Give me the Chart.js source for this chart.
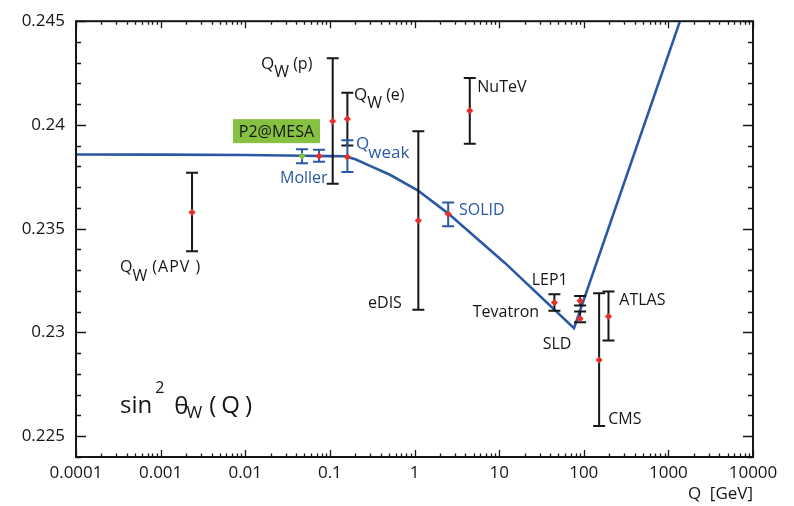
<!DOCTYPE html>
<html><head><meta charset="utf-8">
<script src="https://cdn.jsdelivr.net/npm/chart.js@4.4.1/dist/chart.umd.min.js"></script>
<style>html,body{margin:0;padding:0;background:#fff;} #wrap{width:794px;height:506px;}</style>
</head><body><div id="wrap"><canvas id="c" width="794" height="506"></canvas></div>
<script>
// ---- axis ticks ----
const xTickValues = [1e-4, 1e-3, 1e-2, 1e-1, 1, 10, 100, 1000, 10000];
const xTickLabels = ['0.0001', '0.001', '0.01', '0.1', '1', '10', '100', '1000', '10000'];
const yTickValues = [0.225, 0.23, 0.235, 0.24, 0.245];
const yTickLabels = ['0.225', '0.23', '0.235', '0.24', '0.245'];

// ---- running sin^2 theta_W curve ----
const curveQ = [0.0001, 0.001, 0.01, 0.05, 0.1, 0.15, 0.2, 0.298, 0.513, 1.10, 2.49, 11.7, 76.7, 1371];
const curveS = [0.23858, 0.23857, 0.23855, 0.23852, 0.2385, 0.238494, 0.23835, 0.238031, 0.237601, 0.236838, 0.23574, 0.233353, 0.230203, 0.245];

// ---- existing measurements (black error bars) ----
const blackNames = ['QW(APV)', 'QW(p)', 'QW(e)', 'eDIS', 'NuTeV', 'LEP1', 'Tevatron', 'SLD', 'CMS', 'ATLAS'];
const blackQ  = [0.00235, 0.108, 0.161, 1.11, 4.5, 45, 90.6, 90.6, 152, 196];
const blackS  = [0.235788, 0.240179, 0.240289, 0.235391, 0.240690, 0.231444, 0.231525, 0.230666, 0.228675, 0.230776];
const blackLo = [0.233912, 0.237172, 0.239010, 0.231096, 0.239095, 0.231048, 0.231301, 0.230489, 0.225492, 0.229616];
const blackHi = [0.237697, 0.243220, 0.241549, 0.239702, 0.242265, 0.231840, 0.231754, 0.231014, 0.231888, 0.231969];

// ---- future experiments (blue error bars) ----
const blueNames = ['P2@MESA', 'Moller', 'Qweak', 'SOLID'];
const blueQ  = [0.0469, 0.0745, 0.161, 2.5];
const blueS  = [0.238494, 0.238494, 0.238461, 0.235707];
const blueLo = [0.238160, 0.238222, 0.237730, 0.235119];
const blueHi = [0.238828, 0.238809, 0.239258, 0.236265];

const BLUE = '#2b58a5';
const RED = '#e3302b';
const GREEN = '#86c142';
const INK = '#161616';
const FONT = '"Open Sans", "DejaVu Sans", sans-serif';

// text annotations anchored in data coordinates (left edge, baseline)
const annotations = [
  {q: 0.01535, s: 0.242709, color: INK, parts: [{t: 'Q', size: 17}, {t: 'W', size: 16, dy: 8}, {t: ' (p)', size: 16, gap: 0}]},
  {q: 0.1927, s: 0.241181, color: INK, parts: [{t: 'Q', size: 17}, {t: 'W', size: 16, dy: 8}, {t: ' (e)', size: 16}]},
  {q: 0.000331, s: 0.232924, color: INK, parts: [{t: 'Q', size: 16}, {t: 'W', size: 16, dy: 9}, {t: ' (APV )', size: 16, ls: 1}]},
  {q: 5.52, s: 0.241611, color: INK, parts: [{t: 'NuTeV', size: 16}]},
  {q: 0.2825, s: 0.231158, color: INK, parts: [{t: 'eDIS', size: 16}]},
  {q: 24.3, s: 0.232303, color: INK, parts: [{t: 'LEP1', size: 16}]},
  {q: 4.88, s: 0.230728, color: INK, parts: [{t: 'Tevatron', size: 16}]},
  {q: 32.7, s: 0.229224, color: INK, parts: [{t: 'SLD', size: 16}]},
  {q: 263, s: 0.231301, color: INK, parts: [{t: 'ATLAS', size: 16}]},
  {q: 195, s: 0.225573, color: INK, parts: [{t: 'CMS', size: 16}]},
  {q: 3.36, s: 0.235644, color: BLUE, parts: [{t: 'SOLID', size: 16}]},
  {q: 0.02576, s: 0.237220, color: BLUE, parts: [{t: 'Moller', size: 16}]},
  {q: 0.2037, s: 0.238842, color: BLUE, parts: [{t: 'Q', size: 17, gap: -1}, {t: 'weak', size: 17, dy: 9}]},
  {q: 0.000331, s: 0.226098, color: INK, parts: [
    {t: 'sin', size: 24, gap: 3}, {t: '2', size: 16, dy: -20, gap: 10}, {t: '\u03b8', size: 24, dy: 1, gap: -2},
    {t: 'W', size: 17, dy: 5, gap: 7}, {t: '(', size: 24, gap: 5}, {t: 'Q', size: 24, gap: 5}, {t: ')', size: 24}]}
];
const boxLabel = {q: 0.02339, s: 0.239702, text: 'P2@MESA'};

function drawParts(ctx, x, y, parts, color) {
  let cx = x;
  ctx.textAlign = 'left';
  ctx.textBaseline = 'alphabetic';
  ctx.fillStyle = color;
  for (const p of parts) {
    ctx.font = p.size + 'px ' + FONT;
    if ('letterSpacing' in ctx) ctx.letterSpacing = (p.ls || 0) + 'px';
    ctx.fillText(p.t, cx, y + (p.dy || 0));
    cx += ctx.measureText(p.t).width + (p.gap || 0);
  }
  if ('letterSpacing' in ctx) ctx.letterSpacing = '0px';
}

function drawErrorBars(ctx, xs, ys, qs, lo, hi, color) {
  ctx.save();
  ctx.strokeStyle = color;
  ctx.lineWidth = 2;
  for (let i = 0; i < qs.length; i++) {
    const px = xs.getPixelForValue(qs[i]);
    const pt = ys.getPixelForValue(hi[i]);
    const pb = ys.getPixelForValue(lo[i]);
    ctx.beginPath();
    ctx.moveTo(px, pt); ctx.lineTo(px, pb);
    ctx.moveTo(px - 6, pt); ctx.lineTo(px + 6, pt);
    ctx.moveTo(px - 6, pb); ctx.lineTo(px + 6, pb);
    ctx.stroke();
  }
  ctx.restore();
}

const decorPlugin = {
  id: 'decor',
  afterDatasetDraw(chart, args) {
    if (args.index !== 3) return;
    const ctx = chart.ctx, xs = chart.scales.x, ys = chart.scales.y;
    drawErrorBars(ctx, xs, ys, blackQ, blackLo, blackHi, INK);
    drawErrorBars(ctx, xs, ys, blueQ, blueLo, blueHi, BLUE);
  },
  afterDraw(chart) {
    const ctx = chart.ctx, xs = chart.scales.x, ys = chart.scales.y, a = chart.chartArea;
    ctx.save();
    ctx.strokeStyle = INK;
    ctx.lineWidth = 2;
    ctx.strokeRect(a.left, a.top, a.right - a.left, a.bottom - a.top);
    ctx.lineWidth = 1.3;
    ctx.beginPath();
    for (let k = 224; k <= 245; k++) {
      const v = k / 1000;
      const py = Math.round(ys.getPixelForValue(v)) + 0.5;
      const len = (k % 5 === 0) ? 10 : 5;
      ctx.moveTo(a.left, py); ctx.lineTo(a.left + len, py);
      ctx.moveTo(a.right, py); ctx.lineTo(a.right - len, py);
    }
    for (let d = -4; d <= 4; d++) {
      for (let m = 1; m <= 9; m++) {
        if (d === 4 && m > 1) break;
        const v = m * Math.pow(10, d);
        const px = Math.round(xs.getPixelForValue(v)) + 0.5;
        const len = (m === 1) ? 7 : 3.5;
        ctx.moveTo(px, a.bottom); ctx.lineTo(px, a.bottom - len);
        ctx.moveTo(px, a.top); ctx.lineTo(px, a.top + len);
      }
    }
    ctx.stroke();
    const bx = xs.getPixelForValue(boxLabel.q), by = ys.getPixelForValue(boxLabel.s);
    ctx.fillStyle = GREEN;
    ctx.fillRect(bx - 43.5, by - 12, 87, 24);
    ctx.fillStyle = INK;
    ctx.font = '16px ' + FONT;
    ctx.textAlign = 'center';
    ctx.textBaseline = 'middle';
    ctx.fillText(boxLabel.text, bx, by + 1);
    for (const an of annotations) {
      drawParts(ctx, xs.getPixelForValue(an.q), ys.getPixelForValue(an.s), an.parts, an.color);
    }
    ctx.restore();
  }
};

const toXY = (qs, ss) => qs.map((q, i) => ({x: q, y: ss[i]}));
const tickFont = {family: FONT, size: 17};

new Chart(document.getElementById('c'), {
  type: 'scatter',
  data: {
    datasets: [
      {label: 'measurements', data: toXY(blackQ, blackS), pointStyle: 'rectRot', pointRadius: 3.6,
       backgroundColor: RED, borderColor: RED, borderWidth: 0, order: 0},
      {label: 'future', data: toXY(blueQ.slice(1), blueS.slice(1)), pointStyle: 'rectRot', pointRadius: 3.6,
       backgroundColor: RED, borderColor: RED, borderWidth: 0, order: 0},
      {label: 'P2', data: toXY(blueQ.slice(0, 1), blueS.slice(0, 1)), pointStyle: 'rectRot', pointRadius: 3.6,
       backgroundColor: GREEN, borderColor: GREEN, borderWidth: 0, order: 0},
      {label: 'SM running', type: 'line', data: toXY(curveQ, curveS), borderColor: BLUE, borderWidth: 2.6,
       pointRadius: 0, tension: 0, fill: false, order: 5}
    ]
  },
  options: {
    responsive: false,
    animation: false,
    devicePixelRatio: 1,
    layout: {padding: {top: 17, right: 41, left: 0, bottom: 0}},
    plugins: {legend: {display: false}, tooltip: {enabled: false}},
    scales: {
      x: {
        type: 'logarithmic', min: 1e-4, max: 1e4, position: 'bottom',
        grid: {display: false, drawTicks: false}, border: {display: false},
        ticks: {autoSkip: false, maxRotation: 0, padding: 6, color: INK, font: tickFont,
                callback: (v, i) => xTickLabels[i]},
        afterBuildTicks: s => { s.ticks = xTickValues.map(v => ({value: v})); },
        afterFit: s => { s.height = 49; },
        title: {display: true, text: 'Q\u2002[GeV]', align: 'end', color: INK, font: {family: FONT, size: 17},
                padding: {top: 0, bottom: 2}}
      },
      y: {
        min: 0.224, max: 0.245,
        grid: {display: false, drawTicks: false}, border: {display: false},
        ticks: {padding: 11, color: INK, font: tickFont, callback: (v, i) => yTickLabels[i]},
        afterBuildTicks: s => { s.ticks = yTickValues.map(v => ({value: v})); },
        afterFit: s => { s.width = 76; }
      }
    }
  },
  plugins: [decorPlugin]
});
</script>
</body></html>
